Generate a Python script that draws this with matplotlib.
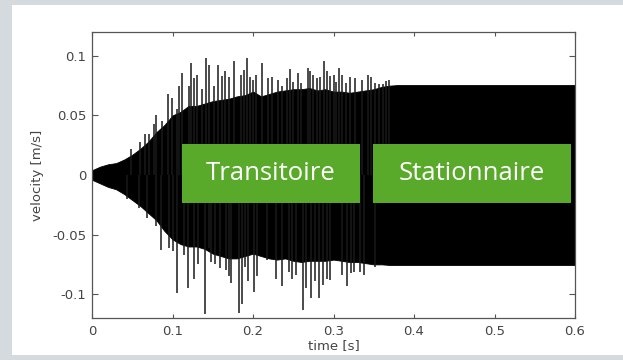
import matplotlib.pyplot as plt
from matplotlib.patches import Rectangle

# envelope of the velocity signal (body of the oscillation)
env_t = [0.00, 0.01, 0.02, 0.03, 0.04, 0.05, 0.06, 0.07, 0.08, 0.09,
         0.10, 0.11, 0.12, 0.13, 0.14, 0.15, 0.16, 0.17, 0.18, 0.19,
         0.20, 0.21, 0.22, 0.23, 0.24, 0.25, 0.26, 0.27, 0.28, 0.29,
         0.30, 0.31, 0.32, 0.33, 0.34, 0.35, 0.36, 0.37, 0.38, 0.60]
env_upper = [0.004, 0.007, 0.009, 0.010, 0.013, 0.017, 0.022, 0.028, 0.036, 0.042,
             0.050, 0.053, 0.058, 0.058, 0.060, 0.062, 0.063, 0.064, 0.066, 0.067,
             0.070, 0.066, 0.068, 0.070, 0.071, 0.072, 0.072, 0.073, 0.071, 0.072,
             0.070, 0.070, 0.069, 0.070, 0.071, 0.072, 0.074, 0.075, 0.0755, 0.0755]
env_lower = [-0.004, -0.007, -0.010, -0.012, -0.016, -0.021, -0.026, -0.032, -0.038, -0.047,
             -0.054, -0.058, -0.060, -0.060, -0.062, -0.066, -0.068, -0.070, -0.070, -0.068,
             -0.066, -0.068, -0.070, -0.071, -0.070, -0.072, -0.073, -0.072, -0.072, -0.072,
             -0.071, -0.072, -0.073, -0.073, -0.074, -0.075, -0.075, -0.0755, -0.0755, -0.0755]

# individual peaks sticking out of the envelope
peak_up_t = [0.049, 0.060, 0.066, 0.071, 0.077, 0.080, 0.087, 0.095, 0.099, 0.105,
             0.108, 0.112, 0.120, 0.123, 0.127, 0.131, 0.137, 0.142, 0.145, 0.151,
             0.156, 0.161, 0.165, 0.170, 0.176, 0.185, 0.189, 0.192, 0.196, 0.200,
             0.204, 0.211, 0.219, 0.223, 0.231, 0.236, 0.242, 0.246, 0.250, 0.256,
             0.260, 0.268, 0.271, 0.275, 0.279, 0.283, 0.288, 0.292, 0.296, 0.300,
             0.303, 0.307, 0.311, 0.316, 0.320, 0.327, 0.335, 0.343, 0.347, 0.351,
             0.356, 0.361, 0.365, 0.369]
peak_up_v = [0.022, 0.028, 0.034, 0.034, 0.043, 0.050, 0.045, 0.068, 0.065, 0.055,
             0.075, 0.086, 0.075, 0.094, 0.081, 0.084, 0.072, 0.098, 0.092, 0.075,
             0.092, 0.083, 0.087, 0.082, 0.096, 0.084, 0.088, 0.098, 0.082, 0.080,
             0.084, 0.094, 0.081, 0.082, 0.080, 0.075, 0.081, 0.089, 0.078, 0.086,
             0.077, 0.090, 0.087, 0.084, 0.081, 0.082, 0.096, 0.087, 0.083, 0.084,
             0.078, 0.090, 0.084, 0.077, 0.082, 0.081, 0.080, 0.084, 0.082, 0.077,
             0.076, 0.076, 0.079, 0.080]
peak_lo_t = [0.043, 0.058, 0.068, 0.079, 0.086, 0.096, 0.101, 0.106, 0.114, 0.119,
             0.127, 0.132, 0.140, 0.145, 0.148, 0.153, 0.159, 0.166, 0.170, 0.173,
             0.182, 0.186, 0.190, 0.194, 0.201, 0.205, 0.217, 0.229, 0.236, 0.245,
             0.249, 0.254, 0.262, 0.266, 0.272, 0.277, 0.282, 0.287, 0.292, 0.296,
             0.311, 0.317, 0.322, 0.326, 0.333, 0.338, 0.351]
peak_lo_v = [-0.020, -0.028, -0.036, -0.043, -0.063, -0.061, -0.064, -0.099, -0.067, -0.095,
             -0.087, -0.075, -0.117, -0.061, -0.073, -0.075, -0.078, -0.080, -0.085, -0.091,
             -0.116, -0.108, -0.077, -0.089, -0.098, -0.085, -0.071, -0.087, -0.093, -0.081,
             -0.087, -0.084, -0.113, -0.095, -0.103, -0.089, -0.103, -0.092, -0.087, -0.088,
             -0.084, -0.093, -0.082, -0.081, -0.081, -0.084, -0.077]

# phase labels: (text, t_start, t_end)
phases = [("Transitoire", 0.112, 0.333), ("Stationnaire", 0.349, 0.595)]
box_low, box_high = -0.0235, 0.026

fig = plt.figure(figsize=(6.23, 3.6), dpi=100)
fig.patch.set_facecolor("#d5dadf")
fig.patches.append(Rectangle((12 / 623, 5 / 360), 611 / 623, 350 / 360,
                             transform=fig.transFigure, facecolor="white",
                             edgecolor="none", zorder=-1))

ax = fig.add_axes([92 / 623, 42 / 360, 483 / 623, 286 / 360])
ax.set_zorder(1)
ax.fill_between(env_t, env_lower, env_upper, color="black", linewidth=0.6, zorder=2)
ax.vlines(peak_up_t, 0, peak_up_v, color="#1a1a1a", linewidth=1.1, zorder=2)
ax.vlines(peak_lo_t, 0, peak_lo_v, color="#1a1a1a", linewidth=1.1, zorder=2)

for label, t0, t1 in phases:
    ax.add_patch(Rectangle((t0, box_low), t1 - t0, box_high - box_low,
                           facecolor="#59a92b", edgecolor="none", zorder=3))
    ax.text((t0 + t1) / 2, (box_low + box_high) / 2, label, color="white",
            fontsize=18.5, family="Open Sans", ha="center", va="center", zorder=4)

ax.set_xlim(0, 0.6)
ax.set_ylim(-0.12, 0.12)
ax.set_xticks([0, 0.1, 0.2, 0.3, 0.4, 0.5, 0.6])
ax.set_xticklabels(["0", "0.1", "0.2", "0.3", "0.4", "0.5", "0.6"])
ax.set_yticks([-0.1, -0.05, 0, 0.05, 0.1])
ax.set_yticklabels(["-0.1", "-0.05", "0", "0.05", "0.1"])

ax.tick_params(axis="both", direction="in", top=True, right=True,
               colors="#555555", labelcolor="#444444", labelsize=9.5, width=0.8)
ax.tick_params(axis="x", length=3, pad=5)
ax.tick_params(axis="y", length=4.5, pad=4)
for s in ax.spines.values():
    s.set_color("#555555")
    s.set_linewidth(0.9)

ax.set_xlabel("time [s]", fontsize=9.5, color="#444444", labelpad=1)
ax.set_ylabel("velocity [m/s]", fontsize=9.5, color="#444444", labelpad=6)

fig.savefig("out.png", dpi=100, facecolor=fig.get_facecolor())
